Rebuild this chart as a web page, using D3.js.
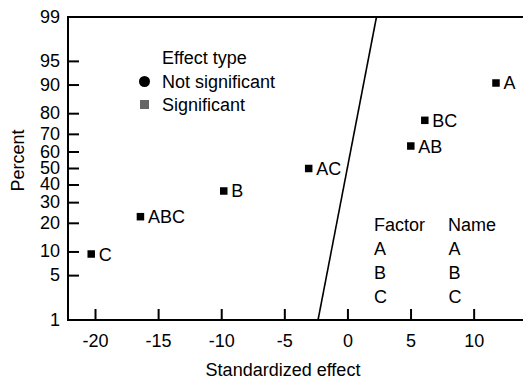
<!DOCTYPE html>
<html>
<head>
<meta charset="utf-8">
<script src="https://cdn.jsdelivr.net/npm/d3@7"></script>
<style>
  html, body { margin: 0; padding: 0; background: #fff; }
  svg { display: block; font-family: "Liberation Sans", Arial, sans-serif; }
</style>
</head>
<body>
<svg id="chart" width="523" height="383"></svg>
<script>
// ---- data ----
const effectNames = ["C", "ABC", "B", "AC", "AB", "BC", "A"];
const effectValues = [-20.3, -16.4, -9.8, -3.07, 5.02, 6.13, 11.77];
const effectPercents = [9.46, 22.97, 36.49, 50.0, 63.51, 77.03, 90.54];
const yTickValues = [1, 5, 10, 20, 30, 40, 50, 60, 70, 80, 90, 95, 99];
const xTickValues = [-20, -15, -10, -5, 0, 5, 10];
const refLineEffects = [-2.33, 2.30];
const refLinePercents = [1, 99];
const legendLabels = ["Not significant", "Significant"];
const factorCodes = ["A", "B", "C"];
const factorNames = ["A", "B", "C"];

(function () {
// inverse standard normal CDF (Acklam)
function probit(p) {
  const a = [-3.969683028665376e+01, 2.209460984245205e+02, -2.759285104469687e+02, 1.383577518672690e+02, -3.066479806614716e+01, 2.506628277459239e+00];
  const b = [-5.447609879822406e+01, 1.615858368580409e+02, -1.556989798598866e+02, 6.680131188771972e+01, -1.328068155288572e+01];
  const c = [-7.784894002430293e-03, -3.223964580411365e-01, -2.400758277161838e+00, -2.549732539343734e+00, 4.374664141464968e+00, 2.938163982698783e+00];
  const d = [7.784695709041462e-03, 3.224671290700398e-01, 2.445134137142996e+00, 3.754408661907416e+00];
  const pl = 0.02425, ph = 1 - pl;
  let q, r;
  if (p < pl) {
    q = Math.sqrt(-2 * Math.log(p));
    return (((((c[0]*q+c[1])*q+c[2])*q+c[3])*q+c[4])*q+c[5]) / ((((d[0]*q+d[1])*q+d[2])*q+d[3])*q+1);
  } else if (p <= ph) {
    q = p - 0.5; r = q * q;
    return (((((a[0]*r+a[1])*r+a[2])*r+a[3])*r+a[4])*r+a[5])*q / (((((b[0]*r+b[1])*r+b[2])*r+b[3])*r+b[4])*r+1);
  } else {
    q = Math.sqrt(-2 * Math.log(1 - p));
    return -(((((c[0]*q+c[1])*q+c[2])*q+c[3])*q+c[4])*q+c[5]) / ((((d[0]*q+d[1])*q+d[2])*q+d[3])*q+1);
  }
}

const svg = d3.select("#chart");
const pLeft = 68, pRight = 523, pTop = 17, pBottom = 320;
const FS = 18;

const x = d3.scaleLinear().domain([-22.14, 13.91]).range([pLeft, pRight]);
const zScale = d3.scaleLinear().domain([probit(0.01), probit(0.99)]).range([pBottom, pTop]);
const y = pct => zScale(probit(pct / 100));

// top frame line
svg.append("line").attr("x1", pLeft).attr("x2", pRight).attr("y1", pTop).attr("y2", pTop)
  .attr("stroke", "#000").attr("stroke-width", 2);

// y axis (ticks inward)
const gy = svg.append("g");
gy.append("line").attr("x1", pLeft).attr("x2", pLeft).attr("y1", pTop - 1).attr("y2", pBottom + 1)
  .attr("stroke", "#000").attr("stroke-width", 2);
gy.selectAll("line.tick").data(yTickValues.filter(v => v !== 1 && v !== 99)).join("line")
  .attr("class", "tick")
  .attr("x1", pLeft).attr("x2", pLeft + 11)
  .attr("y1", d => y(d)).attr("y2", d => y(d))
  .attr("stroke", "#000").attr("stroke-width", 2);
gy.selectAll("text").data(yTickValues).join("text")
  .attr("x", pLeft - 8).attr("y", d => y(d) + 5.5)
  .attr("text-anchor", "end").attr("font-size", FS).attr("fill", "#000")
  .text(d => d);

// x axis (ticks inward)
const gx = svg.append("g").attr("transform", `translate(0,${pBottom})`);
gx.call(d3.axisBottom(x).tickValues(xTickValues).tickSizeInner(-11).tickSizeOuter(0).tickPadding(0));
gx.select(".domain").attr("d", `M${pLeft},0H${pRight}`).attr("stroke", "#000").attr("stroke-width", 2);
gx.selectAll(".tick line").attr("stroke", "#000").attr("stroke-width", 2);
gx.selectAll(".tick text").remove();
gx.selectAll(".tick").append("text")
  .attr("y", 27).attr("text-anchor", "middle").attr("font-size", FS).attr("fill", "#000")
  .attr("font-family", "Liberation Sans, Arial, sans-serif")
  .text(d => d);

// axis titles
svg.append("text").attr("x", 283).attr("y", 376).attr("text-anchor", "middle")
  .attr("font-size", FS).attr("fill", "#000").text("Standardized effect");
svg.append("text").attr("transform", "translate(24,160.5) rotate(-90)").attr("text-anchor", "middle")
  .attr("font-size", FS).attr("fill", "#000").text("Percent");

// reference line
const lineData = refLineEffects.map((e, i) => [e, refLinePercents[i]]);
svg.append("path").datum(lineData)
  .attr("d", d3.line().x(d => x(d[0])).y(d => y(d[1])))
  .attr("fill", "none").attr("stroke", "#000").attr("stroke-width", 1.6);

// points
const pts = effectNames.map((n, i) => ({ name: n, v: effectValues[i], p: effectPercents[i] }));
const S = 7.5;
svg.selectAll("rect.pt").data(pts).join("rect").attr("class", "pt")
  .attr("x", d => x(d.v) - S / 2).attr("y", d => y(d.p) - S / 2)
  .attr("width", S).attr("height", S).attr("fill", "#000");
svg.selectAll("text.pt").data(pts).join("text").attr("class", "pt")
  .attr("x", d => x(d.v) + 7.5).attr("y", d => y(d.p) + 6.5)
  .attr("font-size", FS).attr("fill", "#000").text(d => d.name);

// legend
svg.append("text").attr("x", 162).attr("y", 63.5).attr("font-size", FS).attr("fill", "#000").text("Effect type");
svg.append("circle").attr("cx", 144.5).attr("cy", 81.5).attr("r", 5.5).attr("fill", "#000");
svg.append("rect").attr("x", 144.5 - 4.5).attr("y", 104.5 - 4.5).attr("width", 9).attr("height", 9).attr("fill", "#666");
svg.selectAll("text.leg").data(legendLabels).join("text").attr("class", "leg")
  .attr("x", 162).attr("y", (d, i) => 87.5 + i * 23)
  .attr("font-size", FS).attr("fill", "#000").text(d => d);

// factor table
svg.append("text").attr("x", 374).attr("y", 231).attr("font-size", FS).attr("fill", "#000").text("Factor");
svg.append("text").attr("x", 448).attr("y", 231).attr("font-size", FS).attr("fill", "#000").text("Name");
svg.selectAll("text.fc").data(factorCodes).join("text").attr("class", "fc")
  .attr("x", 374).attr("y", (d, i) => 255 + i * 24)
  .attr("font-size", FS).attr("fill", "#000").text(d => d);
svg.selectAll("text.fn").data(factorNames).join("text").attr("class", "fn")
  .attr("x", 448.5).attr("y", (d, i) => 255 + i * 24)
  .attr("font-size", FS).attr("fill", "#000").text(d => d);
})();
</script>
</body>
</html>
